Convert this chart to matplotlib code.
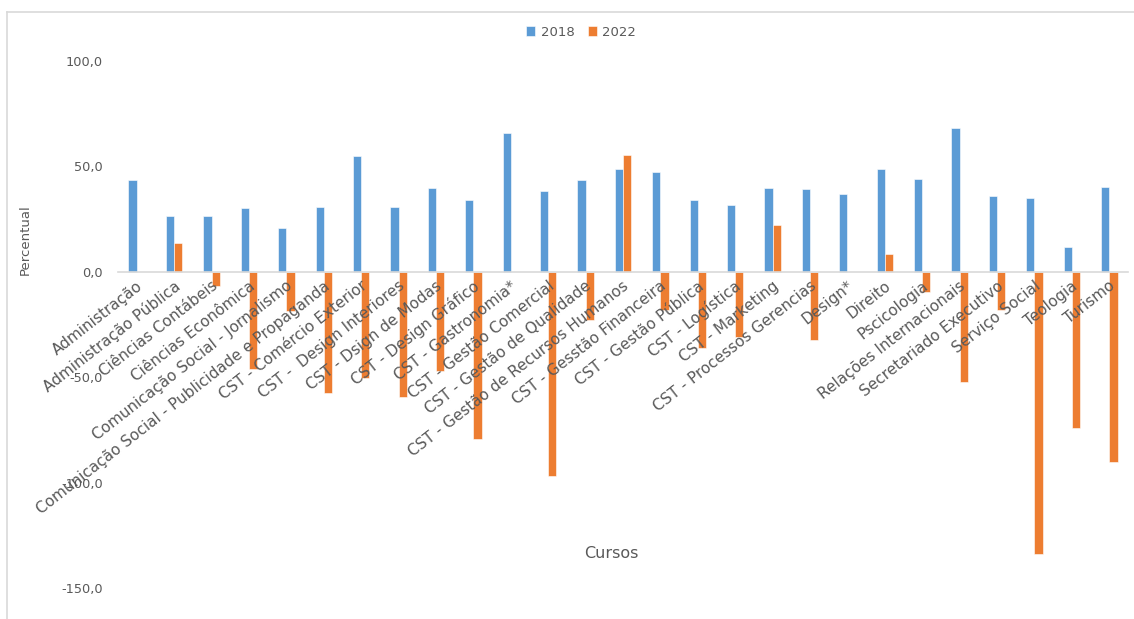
import matplotlib

matplotlib.use("Agg")
import matplotlib.pyplot as plt  # noqa: E402
import matplotlib.transforms as mtransforms  # noqa: E402
import numpy as np  # noqa: E402
from matplotlib.lines import Line2D  # noqa: E402

plt.rcParams["font.family"] = ["DejaVu Sans"]

cursos = [
    "Administração", "Administração Pública", "Ciências Contábeis", "Ciências Econômica",
    "Comunicação Social - Jornalismo", "Comunicação Social - Publicidade e Propaganda",
    "CST - Comércio Exterior", "CST -  Design Interiores", "CST - Dsign de Modas",
    "CST - Design Gráfico", "CST - Gastronomia*", "CST - Gestão Comercial",
    "CST - Gestão de Qualidade", "CST - Gestão de Recursos Humanos", "CST - Gesstão Financeira",
    "CST - Gestão Pública", "CST - Logística", "CST - Marketing",
    "CST - Processos Gerencias", "Design*", "Direito", "Pscicologia",
    "Relações Internacionais", "Secretariado Executivo", "Serviço Social", "Teologia", "Turismo",
]
v2018 = [43.5, 26.5, 26.5, 30.3, 20.8, 30.8, 54.9, 30.8, 39.8, 34.0, 66.0, 38.2, 43.7, 48.9,
         47.3, 34.0, 31.7, 39.8, 39.4, 37.1, 48.9, 44.1, 68.3, 36.0, 35.1, 11.6, 40.3]
v2022 = [0.0, 13.6, -6.8, -46.2, -18.4, -57.6, -50.6, -59.4, -47.0, -79.5, 0.0, -97.0,
         -22.7, 55.4, -17.9, -36.2, -30.8, 22.2, -32.4, 0.0, 8.4, -9.4, -52.2, -17.9,
         -134.0, -74.3, -90.1]
anos = ["2018", "2022"]
yticks = [-150, -100, -50, 0, 50, 100]

BLUE, ORANGE, GRAY = "#5B9BD5", "#ED7D31", "#595959"

fig = plt.figure(figsize=(11.34, 6.19), dpi=100)
ax = fig.add_axes([118 / 1134, 1 - 588 / 619, 1010 / 1134, 527 / 619])

x = np.arange(len(cursos))
w = 0.22
ax.bar(x - w / 2, v2018, w, color=BLUE, edgecolor="white", linewidth=0.4, label=anos[0])
ax.bar(x + w / 2, v2022, w, color=ORANGE, edgecolor="white", linewidth=0.4, label=anos[1])

ax.set_xlim(-0.5, len(cursos) - 0.5)
ax.set_ylim(-150, 100)
ax.set_yticks(yticks)
ax.set_yticklabels([f"{t:.1f}".replace(".", ",") for t in yticks], color=GRAY, fontsize=9.3)
ax.tick_params(axis="y", length=0, pad=11)

for s in ["top", "right", "left"]:
    ax.spines[s].set_visible(False)
ax.spines["bottom"].set_position(("data", 0))
ax.spines["bottom"].set_color("#D9D9D9")
ax.spines["bottom"].set_linewidth(1.2)
ax.set_xticks(x)
ax.set_xticklabels(cursos, rotation=38, ha="right", va="center", rotation_mode="anchor",
                   fontsize=11, color=GRAY)
ax.tick_params(axis="x", length=0, pad=9)
shift = mtransforms.ScaledTranslation(3 / 72, 0, fig.dpi_scale_trans)
for lab in ax.get_xticklabels():
    lab.set_transform(lab.get_transform() + shift)

fig.text(25 / 1134, 1 - 240 / 619, "Percentual", rotation=90, ha="center", va="center",
         color=GRAY, fontsize=9.5)
fig.text(611 / 1134, 1 - 553 / 619, "Cursos", ha="center", va="center", color=GRAY, fontsize=11.5)

fig.legend(loc="center", bbox_to_anchor=(581 / 1134, 1 - 32 / 619), ncol=2, frameon=False,
           fontsize=9.5, handlelength=0.7, handleheight=0.7, handletextpad=0.4,
           columnspacing=1.0, labelcolor=GRAY)

# chart-area border (only top and left visible in the crop)
fig.add_artist(Line2D([7 / 1134, 1.0], [1 - 12 / 619] * 2, color="#D9D9D9", lw=1.2))
fig.add_artist(Line2D([7 / 1134] * 2, [0.0, 1 - 12 / 619], color="#D9D9D9", lw=1.2))

fig.savefig("out.png", dpi=100)
